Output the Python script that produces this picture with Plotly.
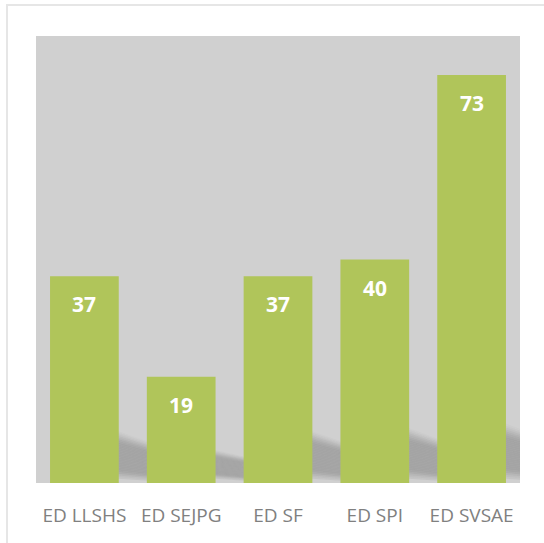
import plotly.graph_objects as go

categories = ["ED LLSHS", "ED SEJPG", "ED SF", "ED SPI", "ED SVSAE"]
values = [37, 19, 37, 40, 73]

W, H = 544, 543
ml, mr, mt, mb = 36, 24, 36, 60
pw, ph = W - ml - mr, H - mt - mb
BARGAP = 0.29

def px_to_paper_x(px):
    return (px - ml) / pw

def px_to_paper_y(py):
    return (H - mb - py) / ph

fig = go.Figure()
fig.add_trace(go.Bar(
    x=list(range(len(categories))), y=values,
    marker=dict(color="#b0c55a", line=dict(width=0)),
    hoverinfo="skip",
))

def shadow_alpha(t):
    # t = relative position within shadow band (0 bottom, 1 top)
    peak = 0.21
    if t > 0.7:
        s = (1 - t) / 0.3
        return peak * s * s * (3 - 2 * s)
    if t < 0.18:
        s = t / 0.18
        return peak * (0.25 + 0.75 * s * s * (3 - 2 * s))
    return peak

shapes = []
n_strips = 30
half = (1 - BARGAP) / 2
for i, v in enumerate(values):
    top_l = min(11.3, 2.5 + v * 0.2)
    drop_top = min(2.3, top_l * 0.22)
    top_r = top_l - drop_top
    bot_l, bot_r = 0.8, 0.4
    xa = i + half - 0.05          # start just inside bar (hidden)
    xb = i + 1 - half + 0.01      # ends under next bar's left edge
    def edge(frac, which):
        b = bot_l if which == "l" else bot_r
        t = top_l if which == "l" else top_r
        return b + (t - b) * frac
    for k in range(n_strips):
        f0, f1 = k / n_strips, (k + 1) / n_strips
        a = shadow_alpha((k + 0.5) / n_strips)
        if a <= 0.003:
            continue
        path = (f"M {xa},{edge(f0,'l')} L {xb},{edge(f0,'r')} "
                f"L {xb},{edge(f1,'r')} L {xa},{edge(f1,'l')} Z")
        shapes.append(dict(
            type="path", xref="x", yref="y", layer="below", path=path,
            fillcolor=f"rgba(0,0,0,{a:.3f})", line=dict(width=0),
        ))

# outer chart border (left and top only visible)
shapes.append(dict(type="line", xref="paper", yref="paper",
                   x0=px_to_paper_x(7), x1=px_to_paper_x(7),
                   y0=px_to_paper_y(4), y1=px_to_paper_y(560),
                   line=dict(color="#e6e6e6", width=2)))
shapes.append(dict(type="line", xref="paper", yref="paper",
                   x0=px_to_paper_x(6), x1=px_to_paper_x(560),
                   y0=px_to_paper_y(5), y1=px_to_paper_y(5),
                   line=dict(color="#e6e6e6", width=2)))

annotations = []
for i, v in enumerate(values):
    annotations.append(dict(
        x=i, y=v, xref="x", yref="y", text=str(v), showarrow=False,
        yshift=-28, font=dict(family="Open Sans", size=21, color="white", weight="bold"),
    ))

fig.update_layout(
    width=W, height=H,
    margin=dict(l=ml, r=mr, t=mt, b=mb, pad=0),
    paper_bgcolor="white",
    plot_bgcolor="#d0d0d0",
    bargap=BARGAP,
    showlegend=False,
    shapes=shapes,
    annotations=annotations,
    xaxis=dict(
        tickmode="array", tickvals=list(range(len(categories))), ticktext=categories,
        range=[-0.5, len(categories) - 0.5],
        showgrid=False, zeroline=False, showline=False,
        ticks="outside", ticklen=15, tickcolor="rgba(0,0,0,0)",
        tickfont=dict(family="Open Sans", size=19, color="#808080"),
        fixedrange=True,
    ),
    yaxis=dict(
        range=[0, 80], visible=False, showgrid=False, zeroline=False,
        fixedrange=True,
    ),
)

fig.write_html(
    "out.html",
    config={"displayModeBar": False},
    post_script="document.body.style.margin='0';",
)
